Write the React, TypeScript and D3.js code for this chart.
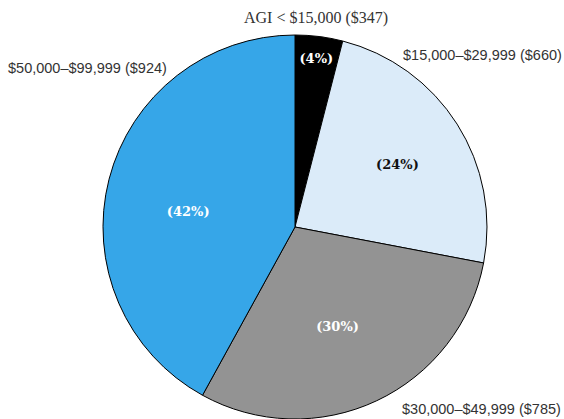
import React from "react";
import * as d3 from "d3";

const categories = [
  "AGI < $15,000 ($347)",
  "$15,000–$29,999 ($660)",
  "$30,000–$49,999 ($785)",
  "$50,000–$99,999 ($924)",
];
const shares = [4, 24, 30, 42];
const sliceColors = ["#000000", "#dbebf9", "#939393", "#36a6e8"];
const pctTextColors = ["#ffffff", "#111111", "#ffffff", "#ffffff"];

const W = 564;
const H = 419;
const cx = 295;
const cy = 227;
const R = 192;
// label radius / angle offset (deg) per slice for the percentage labels
const pctLabelRadius = [170, 120, 108, 108];
const pctLabelAngleNudge = [0, 1, 2, -6];

const catLabelPos: { x: number; y: number; anchor: "start" | "middle" | "end"; serif: boolean }[] = [
  { x: 316, y: 23, anchor: "middle", serif: true },
  { x: 403, y: 60, anchor: "start", serif: false },
  { x: 402, y: 414, anchor: "start", serif: false },
  { x: 8, y: 73, anchor: "start", serif: false },
];

export default function App() {
  const pie = d3.pie<number>().sort(null).value((d) => d);
  const arcs = pie(shares);
  const arc = d3.arc<d3.PieArcDatum<number>>().innerRadius(0).outerRadius(R);

  return (
    <div style={{ position: "fixed", left: 0, top: 0 }}>
      <svg width={W} height={H} style={{ display: "block", background: "#fff" }}>
        <g transform={`translate(${cx},${cy})`}>
          {arcs.map((a, i) => (
            <path
              key={i}
              d={arc(a) || ""}
              fill={sliceColors[i]}
              stroke="#000"
              strokeWidth={1}
              strokeLinejoin="round"
            />
          ))}
          {arcs.map((a, i) => {
            const mid = (a.startAngle + a.endAngle) / 2 + (pctLabelAngleNudge[i] * Math.PI) / 180;
            const r = pctLabelRadius[i];
            const x = r * Math.sin(mid);
            const y = -r * Math.cos(mid);
            return (
              <text
                key={"p" + i}
                x={x}
                y={y}
                dy="0.36em"
                textAnchor="middle"
                fill={pctTextColors[i]}
                style={{ fontFamily: "'DejaVu Serif', serif", fontWeight: 700, fontSize: 13 }}
              >
                {`(${shares[i]}%)`}
              </text>
            );
          })}
        </g>
        {categories.map((c, i) => (
          <text
            key={"c" + i}
            x={catLabelPos[i].x}
            y={catLabelPos[i].y}
            textAnchor={catLabelPos[i].anchor}
            fill="#333"
            style={{
              fontFamily: catLabelPos[i].serif ? "'Liberation Serif', serif" : "'Liberation Sans', sans-serif",
              fontSize: catLabelPos[i].serif ? 16 : 14.5,
            }}
          >
            {c}
          </text>
        ))}
      </svg>
    </div>
  );
}
